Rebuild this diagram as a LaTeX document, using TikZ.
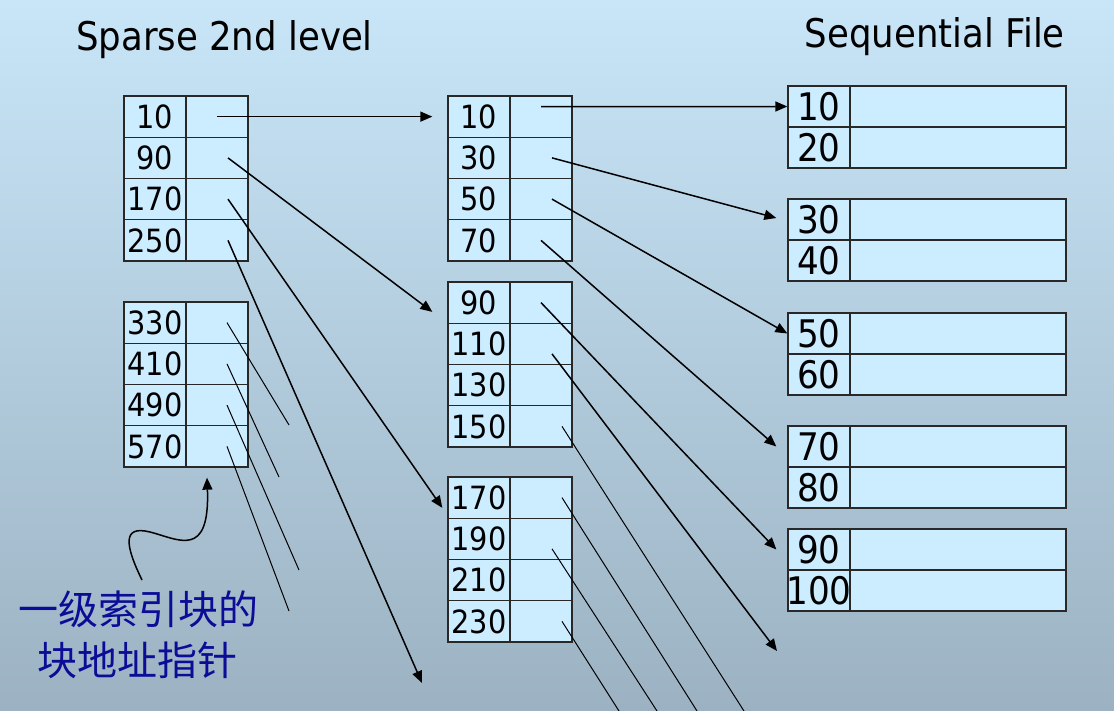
\documentclass[tikz,border=0pt]{standalone}
\usepackage{fontspec}
\setmainfont{DejaVu Sans Condensed}
\newfontfamily\cjkfont{Noto Sans CJK SC}
\usepackage{tikz}
\usetikzlibrary{arrows.meta}
\definecolor{bgtop}{RGB}{200,230,248}
\definecolor{bgbottom}{RGB}{156,178,194}
\definecolor{cellfill}{RGB}{204,236,255}
\definecolor{cellline}{RGB}{40,40,40}
\definecolor{notecolor}{RGB}{12,12,150}
\tikzset{
  keycell/.style={draw=cellline, fill=cellfill, line width=1.3pt,
    minimum width=62pt, minimum height=41.25pt, inner sep=0pt,
    font=\fontsize{32}{32}\selectfont},
  ptrcell/.style={keycell},
  filekey/.style={keycell, minimum height=41pt, font=\fontsize{38}{38}\selectfont},
  filedata/.style={filekey, minimum width=216pt},
  title/.style={inner sep=0pt, font=\fontsize{39.5}{40}\selectfont},
  note/.style={inner sep=0pt, align=center, text=notecolor,
    font=\cjkfont\fontsize{40}{51}\selectfont},
  ptr/.style={line width=1.5pt, -{Triangle[length=12pt,width=10pt]}},
  thinptr/.style={line width=1pt}
}
\begin{document}
\begin{tikzpicture}[x=1pt,y=-1pt]
  \useasboundingbox (0,0) rectangle (1114,710);
  \clip (0,0) rectangle (1114,710);
  \shade[top color=bgtop, bottom color=bgbottom] (0,0) rectangle (1114,710);

  \node[title, anchor=base west] (sparsetitle) at (76,50) {Sparse 2nd level};
  \node[title, anchor=base east] (filetitle) at (1065,47) {Sequential File};

  % sparse 2nd level index blocks
  \foreach \top/\keys in {96/{10,90,170,250}, 302/{330,410,490,570}} {
    \foreach \key [count=\i from 0] in \keys {
      \node[keycell] (sk\key) at (155,\top+20.625+41.25*\i) {\key};
      \node[ptrcell] (sp\key) at (217,\top+20.625+41.25*\i) {};
    }
  }
  % first level index blocks
  \foreach \top/\keys in {96/{10,30,50,70}, 282/{90,110,130,150}, 477/{170,190,210,230}} {
    \foreach \key [count=\i from 0] in \keys {
      \node[keycell] (mk\key) at (479,\top+20.625+41.25*\i) {\key};
      \node[ptrcell] (mp\key) at (541,\top+20.625+41.25*\i) {};
    }
  }
  % sequential file blocks
  \foreach \top/\keys in {86/{10,20}, 199/{30,40}, 313/{50,60}, 426/{70,80}, 529/{90,100}} {
    \foreach \key [count=\i from 0] in \keys {
      \node[filekey] (fk\key) at (819,\top+20.5+41*\i) {\makebox[0pt]{\key}};
      \node[filedata] (fd\key) at (958,\top+20.5+41*\i) {};
    }
  }

  % 2nd level -> 1st level
  \draw[ptr] (sp10.center) -- ([xshift=-15pt]mk10.west);
  \draw[ptr] ([xshift=11pt]sp90.center) -- ([xshift=-15pt,yshift=12pt]mk90.south west);
  \draw[ptr] ([xshift=11pt]sp170.center) -- ([xshift=-5pt,yshift=11pt]mk170.south west);
  \coordinate (off250) at (422,683);
  \draw[ptr] ([xshift=11pt]sp250.center) -- (off250);
  \foreach \key/\x/\y in {330/289/425, 410/279/477, 490/299/570, 570/289/611} {
    \coordinate (cut\key) at (\x,\y);
    \draw[thinptr] ([xshift=10pt]sp\key.center) -- (cut\key);
  }

  % 1st level -> file
  \draw[ptr] ([yshift=10pt]mp10.center) -- (fk10.west);
  \draw[ptr] ([xshift=11pt]mp30.center) -- ([xshift=-11pt,yshift=1.5pt]fk30.west);
  \draw[ptr] ([xshift=11pt]mp50.center) -- (fk50.west);
  \draw[ptr] (mp70.center) -- ([xshift=-11pt]fk70.west);
  \draw[ptr] (mp90.center) -- ([xshift=-11pt]fk90.west);
  \coordinate (off110) at (777,651);
  \draw[ptr] ([xshift=11pt,yshift=-10pt]mp110.center) -- (off110);
  \foreach \key/\dx/\dy/\x in {150/21/0/744, 170/21/0/697, 190/11/-10/657, 230/21/0/619} {
    \coordinate (cut\key) at (\x,711);
    \draw[thinptr] ([xshift=\dx pt,yshift=\dy pt]mp\key.center) -- (cut\key);
  }

  % note on the block pointers
  \node[note] (note) at (138,635) {一级索引块的\\块地址指针};
  \draw[ptr] (142,580) .. controls (125,545) and (122,525) .. (150,532)
    .. controls (178,539) and (210,560) .. ([xshift=-10pt,yshift=-10pt]sp570.south);
\end{tikzpicture}
\end{document}
